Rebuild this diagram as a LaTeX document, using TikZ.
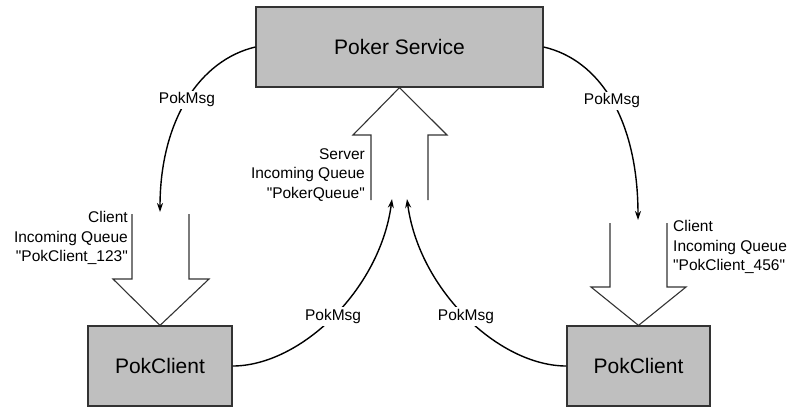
\documentclass[tikz,border=0pt]{standalone}
\usepackage{fontspec}
\setmainfont{Liberation Sans}
\usetikzlibrary{arrows.meta}

\begin{document}
\begin{tikzpicture}[x=1pt,y=-1pt,
    box/.style={draw=black!80,line width=1.2pt,fill=black!25,inner sep=0pt,
        font=\fontsize{21}{25}\selectfont},
    queue/.style={draw=black!80,line width=1.1pt,line join=miter},
    qtext/.style={inner sep=0pt,font=\fontsize{15.5}{19.5}\selectfont},
    flow/.style={line width=1.4pt,-{Stealth[length=9pt,width=6pt]}},
    msg/.style={fill=white,inner sep=2pt,font=\fontsize{15.5}{19}\selectfont}]

    \useasboundingbox (0,0) rectangle (791,407);

    %boxes
    \node[box,minimum width=287pt,minimum height=80pt] (service) at (399.5,47) {Poker Service};
    \node[box,minimum width=144pt,minimum height=80pt] (clientA) at (160,366) {PokClient};
    \node[box,minimum width=143pt,minimum height=80pt] (clientB) at (638.5,366) {PokClient};

    %queues
    \draw[queue] (371,200) -- (371,135) -- (353,135) -- (service.south) -- (447,135) -- (428,135) -- (428,200);
    \draw[queue] (132,214) -- (132,279) -- (113,279) -- (clientA.north) -- (209,279) -- (189,279) -- (189,214);
    \draw[queue] (610,223) -- (610,287) -- (591,287) -- (clientB.north) -- (686,287) -- (667,287) -- (667,223);

    \node[qtext,anchor=east,align=right] (serverq) at (365,175)
        {Server\\Incoming Queue\\\textquotedbl PokerQueue\textquotedbl};
    \node[qtext,anchor=east,align=right] (clientAq) at (128,238)
        {Client\\Incoming Queue\\\textquotedbl PokClient\_123\textquotedbl};
    \node[qtext,anchor=west,align=left] (clientBq) at (673,247)
        {Client\\Incoming Queue\\\textquotedbl PokClient\_456\textquotedbl};

    %messages
    \coordinate (tipA) at (160,212);
    \coordinate (tipB) at (638,220);
    \coordinate (tipS1) at (392,199);
    \coordinate (tipS2) at (407,199);

    \draw[flow] (service.west) .. controls (200,60) and (160,120) .. node[msg] {PokMsg} (tipA);
    \draw[flow] (service.east) .. controls (600,60) and (638,120) .. node[msg] {PokMsg} (tipB);
    \draw[flow] (clientA.east) .. controls (300,366) and (380,290) .. node[msg] {PokMsg} (tipS1);
    \draw[flow] (clientB.west) .. controls (499,366) and (419,290) .. node[msg] {PokMsg} (tipS2);

\end{tikzpicture}
\end{document}
